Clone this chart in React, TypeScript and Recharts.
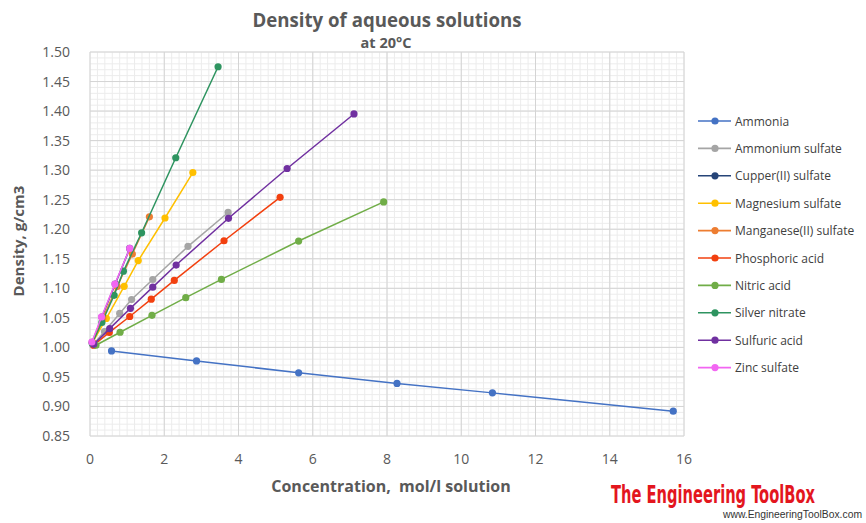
import React from "react";
import {
  ScatterChart,
  Scatter,
  XAxis,
  YAxis,
  CartesianGrid,
} from "recharts";

// concentration (mol/l solution) vs density (g/cm3) at 20°C
const ammonia = [
  { x: 0.58, y: 0.994 },
  { x: 2.87, y: 0.977 },
  { x: 5.62, y: 0.957 },
  { x: 8.27, y: 0.939 },
  { x: 10.84, y: 0.923 },
  { x: 15.71, y: 0.892 },
];
const ammoniumSulfate = [
  { x: 0.076, y: 1.0041 },
  { x: 0.39, y: 1.0269 },
  { x: 0.8, y: 1.0574 },
  { x: 1.12, y: 1.081 },
  { x: 1.69, y: 1.1149 },
  { x: 2.64, y: 1.171 },
  { x: 3.72, y: 1.2284 },
];
const copperSulfate = [
  { x: 0.063, y: 1.0087 },
  { x: 0.32, y: 1.0513 },
  { x: 0.68, y: 1.1073 },
  { x: 1.07, y: 1.1675 },
];
const magnesiumSulfate = [
  { x: 0.067, y: 1.0082 },
  { x: 0.44, y: 1.0491 },
  { x: 0.92, y: 1.1033 },
  { x: 1.3, y: 1.147 },
  { x: 2.02, y: 1.219 },
  { x: 2.77, y: 1.296 },
];
const manganeseSulfate = [
  { x: 0.066, y: 1.0085 },
  { x: 0.345, y: 1.0498 },
  { x: 0.73, y: 1.1029 },
  { x: 1.14, y: 1.158 },
  { x: 1.6, y: 1.221 },
];
const phosphoricAcid = [
  { x: 0.1, y: 1.0038 },
  { x: 0.52, y: 1.0254 },
  { x: 1.07, y: 1.0523 },
  { x: 1.65, y: 1.0816 },
  { x: 2.27, y: 1.1134 },
  { x: 3.61, y: 1.1805 },
  { x: 5.12, y: 1.254 },
];
const nitricAcid = [
  { x: 0.16, y: 1.0036 },
  { x: 0.81, y: 1.0256 },
  { x: 1.67, y: 1.0543 },
  { x: 2.58, y: 1.0842 },
  { x: 3.54, y: 1.115 },
  { x: 5.62, y: 1.18 },
  { x: 7.91, y: 1.2463 },
];
const silverNitrate = [
  { x: 0.059, y: 1.007 },
  { x: 0.32, y: 1.0422 },
  { x: 0.65, y: 1.0882 },
  { x: 0.9, y: 1.129 },
  { x: 1.39, y: 1.194 },
  { x: 2.31, y: 1.321 },
  { x: 3.45, y: 1.475 },
];
const sulfuricAcid = [
  { x: 0.1, y: 1.0051 },
  { x: 0.53, y: 1.0317 },
  { x: 1.09, y: 1.0661 },
  { x: 1.69, y: 1.102 },
  { x: 2.32, y: 1.1394 },
  { x: 3.73, y: 1.2185 },
  { x: 5.31, y: 1.3028 },
  { x: 7.11, y: 1.3951 },
];
const zincSulfate = [
  { x: 0.05, y: 1.0091 },
  { x: 0.31, y: 1.0515 },
  { x: 0.67, y: 1.1071 },
  { x: 1.07, y: 1.1675 },
];

const xDomain = [0, 16];
const yDomain = [0.85, 1.5];
const xTicks = [0, 2, 4, 6, 8, 10, 12, 14, 16];
const yTicks = [0.85, 0.9, 0.95, 1.0, 1.05, 1.1, 1.15, 1.2, 1.25, 1.3, 1.35, 1.4, 1.45, 1.5];
// minor gridlines: x every 0.2, y every 0.01
const xMinorTicks = Array.from({ length: 81 }, (_, i) => +(i * 0.2).toFixed(1));
const yMinorTicks = Array.from({ length: 66 }, (_, i) => +(0.85 + i * 0.01).toFixed(2));

const series = [
  { name: "Ammonia", data: ammonia, color: "#4472C4" },
  { name: "Ammonium sulfate", data: ammoniumSulfate, color: "#A5A5A5" },
  { name: "Cupper(II) sulfate", data: copperSulfate, color: "#264478" },
  { name: "Magnesium sulfate", data: magnesiumSulfate, color: "#FFC000" },
  { name: "Manganese(II) sulfate", data: manganeseSulfate, color: "#ED7D31" },
  { name: "Phosphoric acid", data: phosphoricAcid, color: "#F2400F" },
  { name: "Nitric acid", data: nitricAcid, color: "#70AD47" },
  { name: "Silver nitrate", data: silverNitrate, color: "#2E9460" },
  { name: "Sulfuric acid", data: sulfuricAcid, color: "#7030A0" },
  { name: "Zinc sulfate", data: zincSulfate, color: "#F266F2" },
];

const FONT = "'Open Sans', sans-serif";
const TEXT = "#595959";

// minor grid positions from the plot offset (same linear mapping as the axes)
const minorX = ({ offset }: any) =>
  xMinorTicks.map((t) => offset.left + ((t - xDomain[0]) / (xDomain[1] - xDomain[0])) * offset.width);
const minorY = ({ offset }: any) =>
  yMinorTicks.map((t) => offset.top + ((yDomain[1] - t) / (yDomain[1] - yDomain[0])) * offset.height);

export default function App() {
  return (
    <div style={{ position: "absolute", left: 0, top: 0, width: 866, height: 523, background: "#fff" }}>
      <ScatterChart width={866} height={523} margin={{ top: 52, right: 182, bottom: 57, left: 0 }}>
        <CartesianGrid
          stroke="#ECECEC"
          strokeWidth={1}
          verticalCoordinatesGenerator={minorX}
          horizontalCoordinatesGenerator={minorY}
        />
        <CartesianGrid stroke="#D4D4D4" strokeWidth={1} />
        <XAxis
          dataKey="x"
          type="number"
          domain={xDomain}
          ticks={xTicks}
          axisLine={false}
          tickLine={false}
          tickMargin={12}
          height={30}
          tick={{ fill: TEXT, fontSize: 14, fontFamily: FONT }}
        />
        <YAxis
          dataKey="y"
          type="number"
          domain={yDomain}
          ticks={yTicks}
          axisLine={false}
          tickLine={false}
          tickMargin={14}
          width={90}
          tickFormatter={(v: number) => v.toFixed(2)}
          tick={{ fill: TEXT, fontSize: 14, fontFamily: FONT }}
        />
        {series.map((s) => (
          <Scatter
            key={s.name}
            name={s.name}
            data={s.data}
            fill={s.color}
            line={{ stroke: s.color, strokeWidth: 1.5 }}
            isAnimationActive={false}
            shape={(p: any) => <circle cx={p.cx} cy={p.cy} r={3.6} fill={s.color} />}
          />
        ))}
      </ScatterChart>
      <svg
        width={866}
        height={523}
        style={{ position: "absolute", left: 0, top: 0, pointerEvents: "none" }}
        fontFamily={FONT}
      >
        <text x={387} y={27} textAnchor="middle" fontSize={19} fontWeight={700} fill={TEXT} textLength={269} lengthAdjust="spacingAndGlyphs">
          Density of aqueous solutions
        </text>
        <text x={386} y={48} textAnchor="middle" fontSize={14.5} fontWeight={700} fill={TEXT}>
          at 20°C
        </text>
        <text
          transform="translate(24,241) rotate(-90)"
          textAnchor="middle"
          fontSize={15}
          fontWeight={700}
          fill={TEXT}
        >
          Density, g/cm3
        </text>
        <text x={391} y={492} textAnchor="middle" fontSize={16} fontWeight={700} fill={TEXT} xmlSpace="preserve">
          Concentration,  mol/l solution
        </text>
        {series.map((s, i) => {
          const y = 121 + i * 27.4;
          return (
            <g key={s.name}>
              <line x1={698} x2={731} y1={y} y2={y} stroke={s.color} strokeWidth={1.6} />
              <circle cx={715} cy={y} r={3.6} fill={s.color} />
              <text x={735} y={y + 4.5} fontSize={12} fill="#404040">
                {s.name}
              </text>
            </g>
          );
        })}
        <text
          transform="translate(611,503) scale(1,1.35)"
          fontFamily="'DejaVu Sans Condensed', 'DejaVu Sans', sans-serif"
          fontSize={18.5}
          fontWeight={700}
          fill="#E3161E"
          textLength={204}
          lengthAdjust="spacingAndGlyphs"
        >
          The Engineering ToolBox
        </text>
        <text
          x={723}
          y={518}
          fontFamily="'Liberation Sans', Arial, sans-serif"
          fontSize={10}
          fill="#333"
          textLength={139}
          lengthAdjust="spacingAndGlyphs"
        >
          www.EngineeringToolBox.com
        </text>
      </svg>
    </div>
  );
}
